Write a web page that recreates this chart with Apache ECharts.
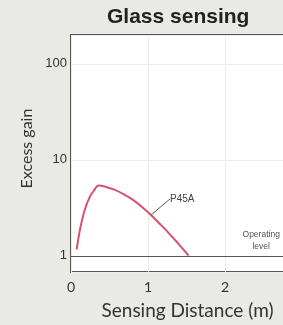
<!DOCTYPE html>
<html>
<head>
<meta charset="utf-8">
<script src="https://cdn.jsdelivr.net/npm/echarts@6/dist/echarts.min.js"></script>
<style>
html,body{margin:0;padding:0;background:#e9e9e5;}
#main{width:283px;height:325px;}
</style>
</head>
<body>
<div id="main"></div>
<script>
// 曲线数据 (距离 m, 增益)
var distance = [0.074, 0.117, 0.18, 0.247, 0.3, 0.355, 0.455, 0.571, 0.688, 0.805, 0.922, 1.039, 1.156, 1.273, 1.39, 1.526];
var gain = [1.17, 1.89, 3.05, 4.17, 4.81, 5.42, 5.23, 4.87, 4.37, 3.83, 3.24, 2.67, 2.15, 1.72, 1.35, 1.01];
var labelIndex = 11;
var operatingLevel = 1;
var operatingLabelX = 2.47;

var myChart = echarts.init(document.getElementById('main'));

var lineData = [];
for (var i = 0; i < distance.length; i++) {
	var item = { value: [distance[i], gain[i]] };
	if (i == labelIndex) {
		item.label = {
			show: true,
			formatter: 'P45A',
			position: 'right',
			color: '#444',
			fontSize: 10,
			fontFamily: 'Liberation Sans'
		};
		item.labelLine = { show: true, lineStyle: { color: '#555', width: 1 } };
	}
	lineData.push(item);
}

var option = {
	backgroundColor: '#e9e9e5',
	title: {
		text: 'Glass sensing',
		left: 102,
		top: 2,
		textStyle: {
			fontFamily: 'Liberation Sans',
			fontWeight: 'bold',
			fontSize: 21,
			color: '#222'
		}
	},
	grid: {
		left: 71,
		top: 35,
		bottom: 53,
		right: -19,
		outerBoundsMode: 'none',
		containLabel: false,
		show: true,
		backgroundColor: '#fff',
		borderColor: '#555',
		borderWidth: 2
	},
	xAxis: {
		type: 'value',
		min: 0,
		max: 3,
		interval: 1,
		name: 'Sensing Distance (m)',
		nameLocation: 'middle',
		nameGap: 29,
		nameTextStyle: {
			fontFamily: 'Lato',
			fontSize: 19,
			color: '#333',
			padding: [0, 0, 0, 2]
		},
		axisLine: { show: false },
		axisTick: { show: false },
		axisLabel: { fontFamily: 'Lato', fontSize: 14, color: '#333', margin: 8 },
		splitLine: { lineStyle: { color: '#ececec', width: 1 } }
	},
	yAxis: {
		type: 'log',
		logBase: 10,
		min: 0.68,
		max: 200,
		name: 'Excess gain',
		nameLocation: 'middle',
		nameGap: 36,
		nameTextStyle: {
			fontFamily: 'Lato',
			fontSize: 16,
			color: '#333',
			padding: [0, 0, 0, 10]
		},
		axisLine: { show: false },
		axisTick: { show: false },
		minorTick: { show: false },
		axisLabel: {
			fontFamily: 'Liberation Sans',
			fontSize: 13,
			color: '#333',
			margin: 4,
			showMinLabel: false,
			showMaxLabel: false
		},
		splitLine: { lineStyle: { color: '#ececec', width: 1 } }
	},
	series: [{
		type: 'line',
		smooth: 0.35,
		symbol: 'circle',
		symbolSize: 0,
		showSymbol: true,
		data: lineData,
		lineStyle: { color: '#d9506a', width: 2 },
		labelLayout: { dx: 14, dy: -16 },
		markLine: {
			silent: true,
			symbol: 'none',
			data: [{ yAxis: operatingLevel }],
			lineStyle: { color: '#555', width: 1, type: 'solid' },
			label: { show: false }
		},
		markPoint: {
			silent: true,
			symbol: 'circle',
			symbolSize: 0,
			data: [{ coord: [operatingLabelX, operatingLevel] }],
			label: {
				show: true,
				position: 'top',
				distance: 3,
				formatter: 'Operating\nlevel',
				fontSize: 8.5,
				lineHeight: 12,
				color: '#555',
				align: 'center',
				fontFamily: 'Liberation Sans'
			}
		}
	}]
};

myChart.setOption(option);
</script>
</body>
</html>
